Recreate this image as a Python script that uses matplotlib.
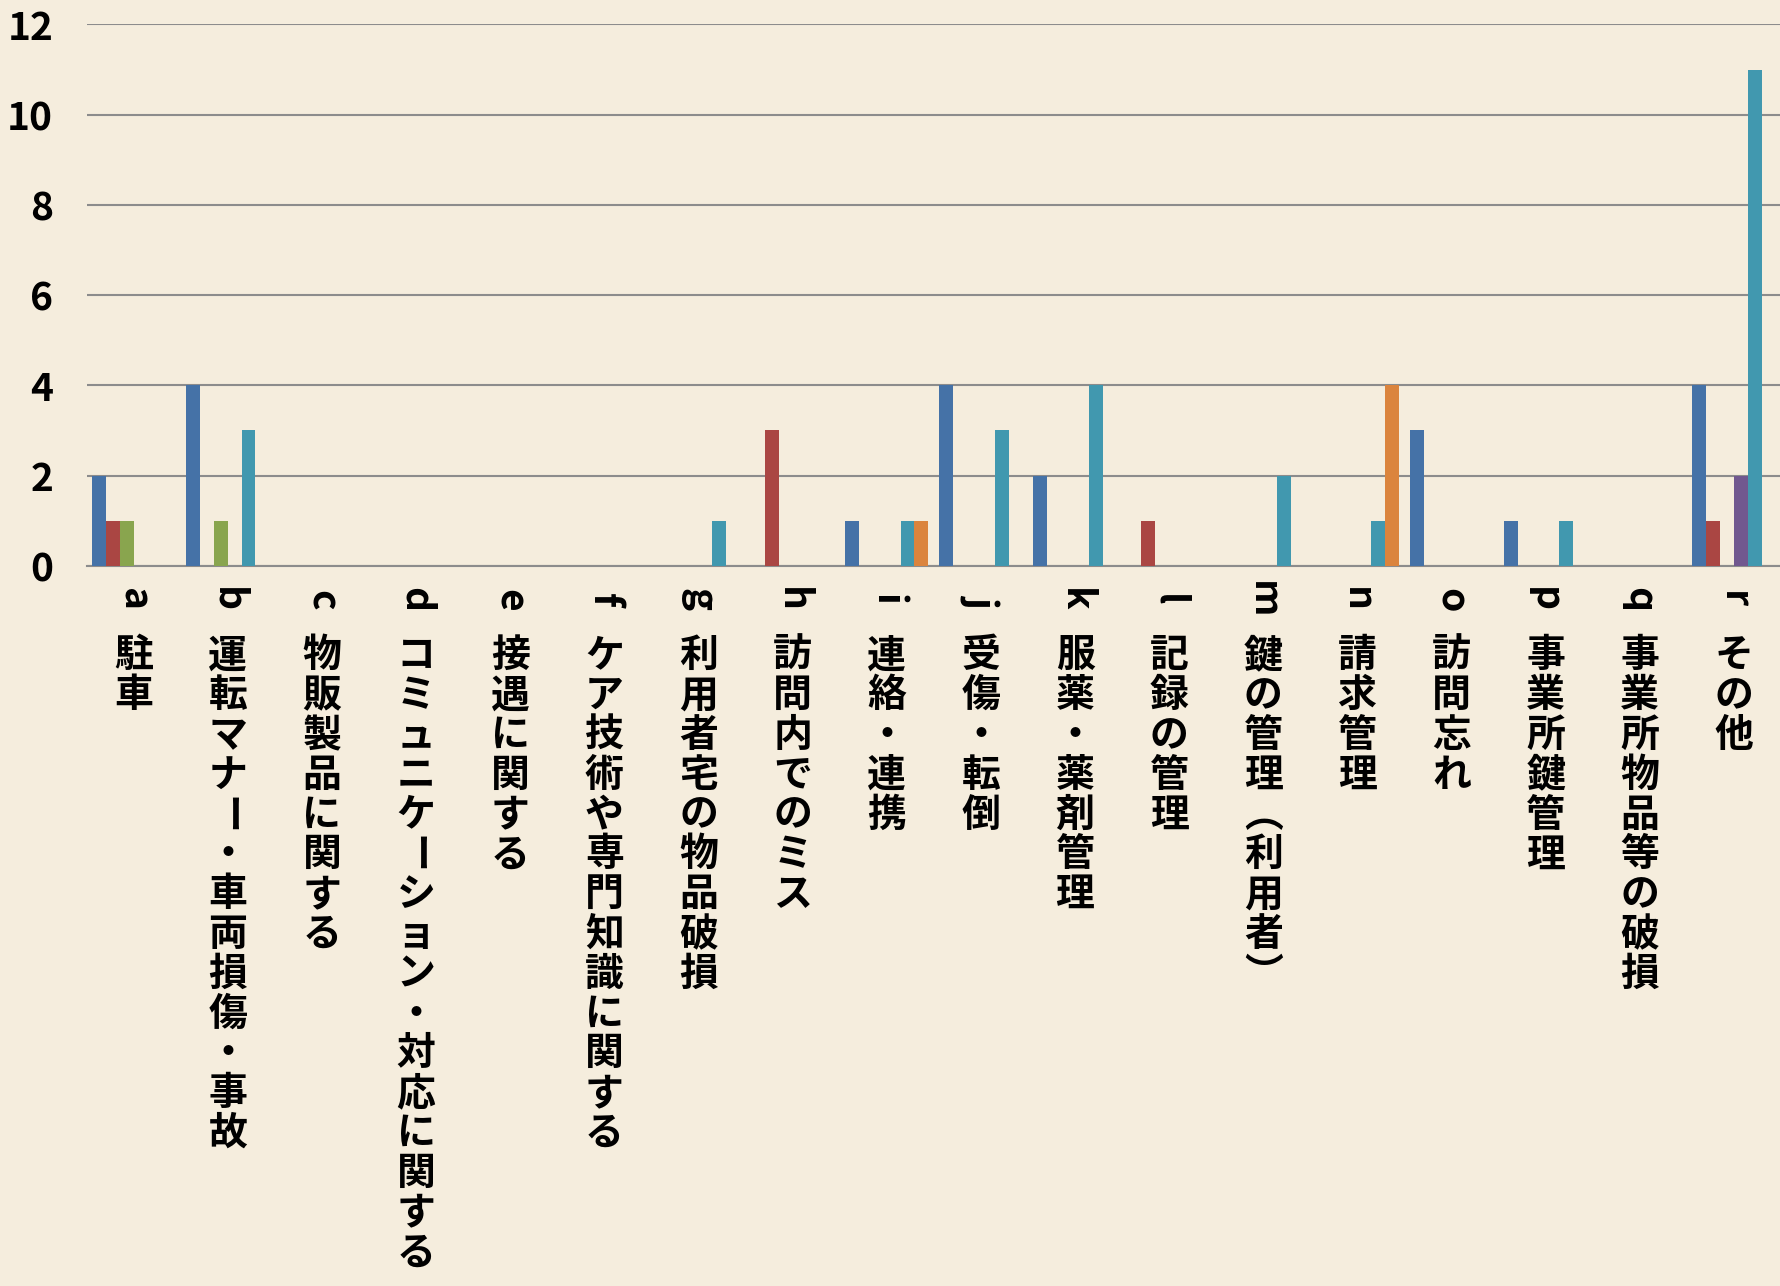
import numpy as np
import matplotlib.pyplot as plt

plt.rcParams['font.family'] = ['Noto Sans CJK JP', 'DejaVu Sans']

# categories (letter + label, written vertically under the axis)
letters = ['a', 'b', 'c', 'd', 'e', 'f', 'g', 'h', 'i',
           'j', 'k', 'l', 'm', 'n', 'o', 'p', 'q', 'r']
names = ['駐車', '運転マナー・車両損傷・事故', '物販製品に関する',
         'コミュニケーション・対応に関する', '接遇に関する',
         'ケア技術や専門知識に関する', '利用者宅の物品破損', '訪問内でのミス',
         '連絡・連携', '受傷・転倒', '服薬・薬剤管理', '記録の管理',
         '鍵の管理（利用者）', '請求管理', '訪問忘れ', '事業所鍵管理',
         '事業所物品等の破損', 'その他']

# six series
blue   = [2, 4, 0, 0, 0, 0, 0, 0, 1, 4, 2, 0, 0, 0, 3, 1, 0, 4]
red    = [1, 0, 0, 0, 0, 0, 0, 3, 0, 0, 0, 1, 0, 0, 0, 0, 0, 1]
green  = [1, 1, 0, 0, 0, 0, 0, 0, 0, 0, 0, 0, 0, 0, 0, 0, 0, 0]
purple = [0, 0, 0, 0, 0, 0, 0, 0, 0, 0, 0, 0, 0, 0, 0, 0, 0, 2]
teal   = [0, 3, 0, 0, 0, 0, 1, 0, 1, 3, 4, 0, 2, 1, 0, 1, 0, 11]
orange = [0, 0, 0, 0, 0, 0, 0, 0, 1, 0, 0, 0, 0, 4, 0, 0, 0, 0]

series = [blue, red, green, purple, teal, orange]
colors = ['#4572A7', '#AA4643', '#89A54E', '#71588F', '#4198AF', '#DB843D']
bg = '#F5EDDD'

fig = plt.figure(figsize=(17.81, 12.86), dpi=100, facecolor=bg)
ax = fig.add_axes([0.0486, 0.560, 0.9514, 0.421])
ax.set_facecolor(bg)

x = np.arange(len(letters))
w = 0.147
for k, (vals, c) in enumerate(zip(series, colors)):
    ax.bar(x + (k - 2.5) * w, vals, width=w, color=c, linewidth=0, zorder=3)

ax.set_xlim(-0.5, len(letters) - 0.5)
ax.set_ylim(0, 12)
ax.set_yticks(range(0, 13, 2))
ax.set_xticks([])
ax.yaxis.grid(True, color='#8C8C8C', linewidth=1.5, zorder=0)
ax.set_axisbelow(True)
for s in ['top', 'right', 'left']:
    ax.spines[s].set_visible(False)
ax.spines['bottom'].set_color('#8C8C8C')
ax.spines['bottom'].set_linewidth(1.5)
ax.tick_params(axis='y', length=0, pad=24, labelsize=28)
for t in ax.get_yticklabels():
    t.set_fontweight('bold')

# vertical writing: sideways letter, then one Japanese char per row
vert = {'（': '︵', '）': '︶'}
tr = ax.get_xaxis_transform()
for i, (letter, name) in enumerate(zip(letters, names)):
    ax.annotate(letter, xy=(i, 0), xycoords=tr, xytext=(0, -24.5),
                textcoords='offset points', rotation=-90, ha='center',
                va='center', fontsize=28, fontweight='bold')
    for k, ch in enumerate(name):
        rot = -90 if ch == 'ー' else 0
        ax.annotate(vert.get(ch, ch), xy=(i, 0), xycoords=tr,
                    xytext=(0, -(64.8 + 28.66 * k)), textcoords='offset points',
                    rotation=rot, ha='center', va='center',
                    fontsize=28, fontweight='bold')

fig.savefig('out.png', dpi=100, facecolor=bg)
